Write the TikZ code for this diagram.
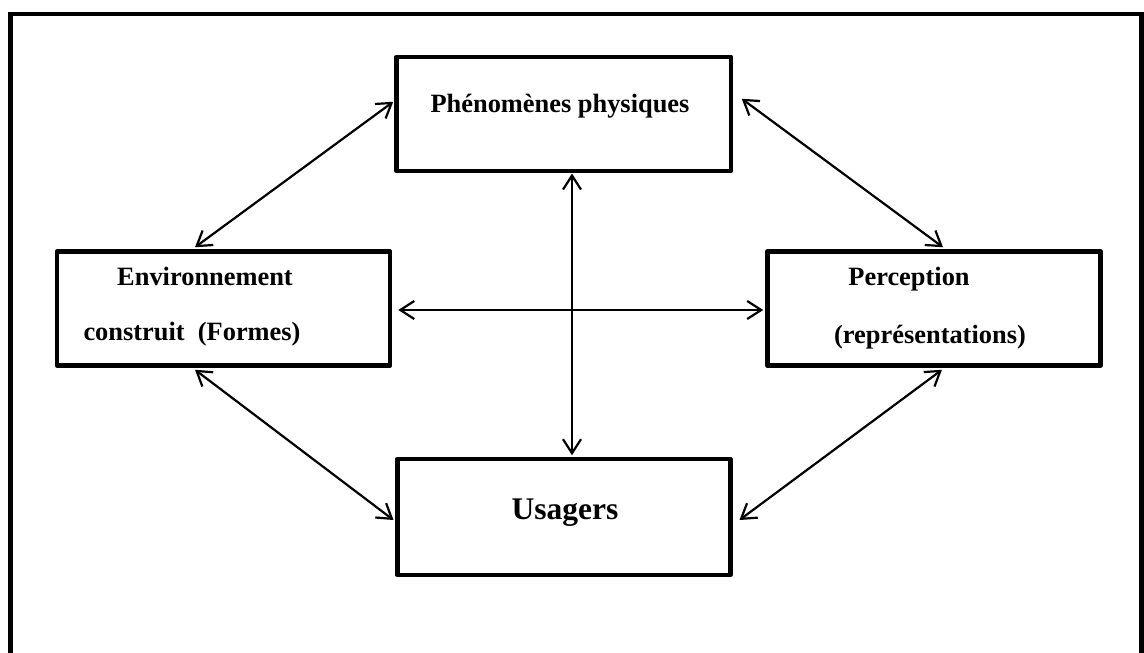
\documentclass[tikz,border=0pt]{standalone}
\usepackage{fontspec}
\setmainfont{Liberation Serif}
\usetikzlibrary{arrows.meta}
\begin{document}
\begin{tikzpicture}[x=1pt,y=-1pt,
  box/.style={draw, line width=4.5pt, line join=round, inner sep=0pt,
    minimum width=333pt, minimum height=114pt},
  lbl/.style={anchor=base, inner sep=0pt, font=\fontsize{26.4}{30}\selectfont\bfseries},
  biglbl/.style={anchor=base, inner sep=0pt, font=\fontsize{31.5}{36}\selectfont\bfseries},
  link/.style={line width=2.2pt, {Straight Barb[length=14pt,width=18pt]}-{Straight Barb[length=14pt,width=18pt]}}
]
\useasboundingbox (0,0) rectangle (1144,653);

% open outer frame
\draw[line width=4.5pt, line join=miter] (10.5,653) -- (10.5,14) -- (1141.5,14) -- (1141.5,653);

% boxes
\node[box, minimum width=334.5pt] (phen) at (563.75,113.75) {};
\node[box] (env) at (223.5,308.5) {};
\node[box] (perc) at (934,308.5) {};
\node[box, minimum height=116pt] (usa) at (563.75,517) {};

% texts
\node[lbl] (tphen) at (560,112) {Phénomènes physiques};
\node[lbl] (tenv1) at (205,285) {Environnement};
\node[lbl] (tenv2) at (192,340) {construit~~(Formes)};
\node[lbl] (tperc1) at (909,285) {Perception};
\node[lbl] (tperc2) at (930,343) {(représentations)};
\node[biglbl] (tusa) at (565,519) {Usagers};

% connectors
\draw[link] ([xshift=-28.5pt,yshift=2pt]env.north) -- ([xshift=-1pt,yshift=12pt]phen.west);
\draw[link] ([xshift=8.5pt,yshift=15pt]phen.east) -- ([xshift=9pt,yshift=2pt]perc.north);
\draw[link] ([xshift=8.25pt,yshift=-0.5pt]phen.south) -- ([xshift=8.25pt,yshift=1.5pt]usa.north);
\draw[link] ([xshift=6pt,yshift=-1.5pt]env.east) -- ([xshift=-2pt,yshift=-1.5pt]perc.west);
\draw[link] ([xshift=-28.5pt,yshift=-2pt]env.south) -- ([xshift=-1.5pt,yshift=-3pt]usa.west);
\draw[link] ([xshift=8pt,yshift=-2pt]perc.south) -- ([xshift=7pt,yshift=-3pt]usa.east);
\end{tikzpicture}
\end{document}
